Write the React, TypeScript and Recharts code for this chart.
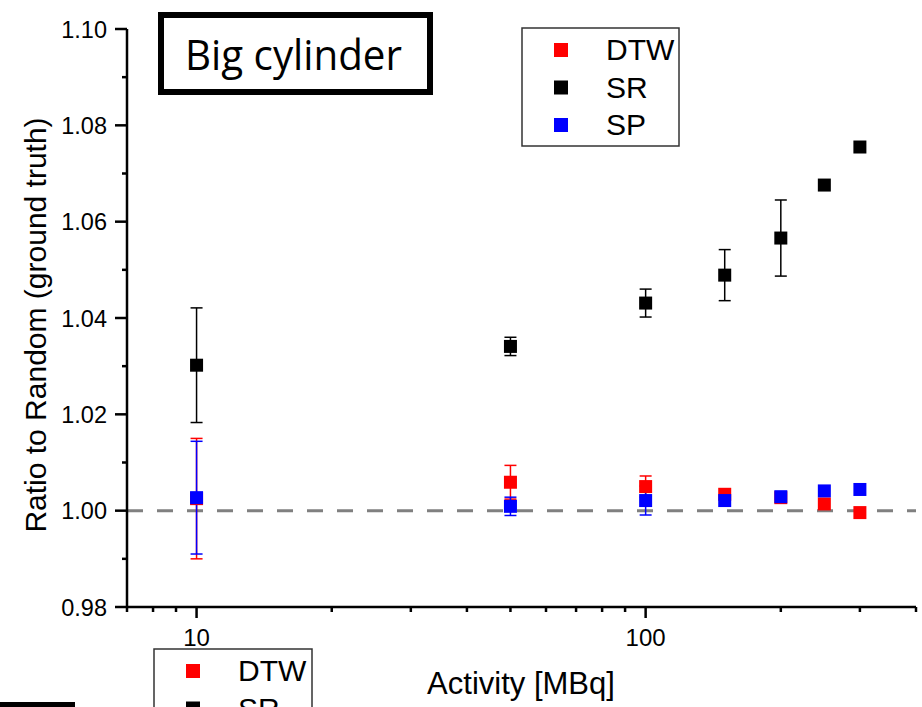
import React from 'react';
import { ScatterChart, Scatter, XAxis, YAxis, ErrorBar, ReferenceLine } from 'recharts';

// Activity levels (MBq)
const activity = [10, 50, 100, 150, 200, 250, 300];

// Ratio to random (ground truth) and symmetric error for each method
const dtwRatio = [1.0025, 1.0059, 1.005, 1.0034, 1.0027, 1.0014, 0.9996];
const dtwErr = [0.0125, 0.0035, 0.0022, 0, 0, 0, 0];
const srRatio = [1.0302, 1.0341, 1.0431, 1.0489, 1.0566, 1.0676, 1.0755];
const srErr = [0.0119, 0.0019, 0.0029, 0.0053, 0.0079, 0, 0];
const spRatio = [1.0027, 1.0009, 1.0021, 1.0021, 1.0029, 1.0041, 1.0044];
const spErr = [0.0117, 0.0019, 0.003, 0, 0, 0, 0];

const seriesNames = ['DTW', 'SR', 'SP'];
const seriesColors = ['#ff0000', '#000000', '#0000ff'];

const xTicks = [7, 8, 9, 10, 20, 30, 40, 50, 60, 70, 80, 90, 100, 200, 300, 400];
const xLabeled = [10, 100];
const yTicks = [0.98, 0.99, 1.0, 1.01, 1.02, 1.03, 1.04, 1.05, 1.06, 1.07, 1.08, 1.09, 1.1];

const title = 'Big cylinder';
const xTitle = 'Activity [MBq]';
const yTitle = 'Ratio to Random (ground truth)';

const W = 922;
const H = 707;
const AXIS_FONT = "'Liberation Sans', Arial, sans-serif";

const build = (vals: number[], errs: number[]) =>
  activity.map((x, i) => ({ x, y: vals[i], err: errs[i] }));

const seriesData = [build(dtwRatio, dtwErr), build(srRatio, srErr), build(spRatio, spErr)];

const SquareMark = (props: any) => {
  const { cx, cy, fill } = props;
  if (cx == null || cy == null) return null;
  return <rect x={cx - 6.5} y={cy - 6.5} width={13} height={13} fill={fill} />;
};

const XTick = (props: any) => {
  const { x, y, payload } = props;
  const v = payload.value;
  const major = xLabeled.includes(v);
  return (
    <g>
      <line x1={x} y1={y} x2={x} y2={y + (major ? 11 : 5)} stroke="#000" strokeWidth={2.5} />
      {major && (
        <text x={x} y={y + 39} textAnchor="middle" fontSize={24} fontFamily={AXIS_FONT} fill="#000">
          {v}
        </text>
      )}
    </g>
  );
};

const YTick = (props: any) => {
  const { x, y, payload } = props;
  const v = payload.value as number;
  const major = Math.round(v * 100) % 2 === 0;
  return (
    <g>
      <line x1={x} y1={y} x2={x - (major ? 12 : 5)} y2={y} stroke="#000" strokeWidth={2.5} />
      {major && (
        <text x={x - 20} y={y + 8.5} textAnchor="end" fontSize={23.5} fontFamily={AXIS_FONT} fill="#000">
          {v.toFixed(2)}
        </text>
      )}
    </g>
  );
};

const LegendBox = ({ x, y, w, h }: { x: number; y: number; w: number; h: number }) => (
  <g>
    <rect x={x} y={y} width={w} height={h} fill="#fff" stroke="#333" strokeWidth={1.5} />
    {seriesNames.map((name, i) => {
      const cy = y + 22 + i * 37.5;
      return (
        <g key={name}>
          <rect x={x + 32} y={cy - 7} width={14} height={14} fill={seriesColors[i]} />
          <text x={x + 84} y={cy + 10} fontSize={30} fontFamily={AXIS_FONT} fill="#000">
            {name}
          </text>
        </g>
      );
    })}
  </g>
);

export default function App() {
  return (
    <div style={{ position: 'absolute', left: 0, top: 0, width: W, height: H, background: '#fff', overflow: 'hidden' }}>
      <ScatterChart width={W} height={H} margin={{ top: 29, right: 6, bottom: 0, left: 0 }}>
        <XAxis
          type="number"
          dataKey="x"
          scale="log"
          domain={[7, 400]}
          allowDataOverflow
          ticks={xTicks}
          interval={0}
          tickSize={0}
          tickMargin={0}
          tickLine={false}
          tick={<XTick />}
          axisLine={{ stroke: '#000', strokeWidth: 2.5 }}
          height={100}
        />
        <YAxis
          type="number"
          dataKey="y"
          domain={[0.98, 1.1]}
          allowDataOverflow
          ticks={yTicks}
          interval={0}
          tickSize={0}
          tickMargin={0}
          tickLine={false}
          tick={<YTick />}
          axisLine={{ stroke: '#000', strokeWidth: 2.5 }}
          width={127}
        />
        <ReferenceLine y={1} stroke="#808080" strokeWidth={3} strokeDasharray="16 14" ifOverflow="hidden" />
        {seriesNames.map((name, i) => (
          <Scatter
            key={name}
            name={name}
            data={seriesData[i]}
            fill={seriesColors[i]}
            shape={<SquareMark />}
            isAnimationActive={false}
          >
            <ErrorBar dataKey="err" direction="y" width={6} stroke={seriesColors[i]} strokeWidth={1.5} />
          </Scatter>
        ))}
      </ScatterChart>
      <svg width={W} height={H} style={{ position: 'absolute', left: 0, top: 0, pointerEvents: 'none' }}>
        {/* panel title */}
        <rect x={161} y={15} width={269} height={77} fill="none" stroke="#000" strokeWidth={6} />
        <text
          x={185}
          y={70}
          fontSize={42}
          fontFamily="'Open Sans', 'Noto Sans', sans-serif"
          textLength={217}
          lengthAdjust="spacingAndGlyphs"
          fill="#000"
        >
          {title}
        </text>
        {/* legends */}
        <LegendBox x={522} y={28} w={157} h={118} />
        <LegendBox x={154} y={649} w={158} h={118} />
        {/* border of the next panel's title box */}
        <rect x={-10} y={702} width={85} height={12} fill="#000" />
        {/* axis titles */}
        <text
          x={46}
          y={325}
          transform="rotate(-90 46 325)"
          textAnchor="middle"
          fontSize={30}
          fontFamily={AXIS_FONT}
          fill="#000"
        >
          {yTitle}
        </text>
        <text x={521} y={694} textAnchor="middle" fontSize={31} fontFamily={AXIS_FONT} fill="#000">
          {xTitle}
        </text>
      </svg>
    </div>
  );
}
